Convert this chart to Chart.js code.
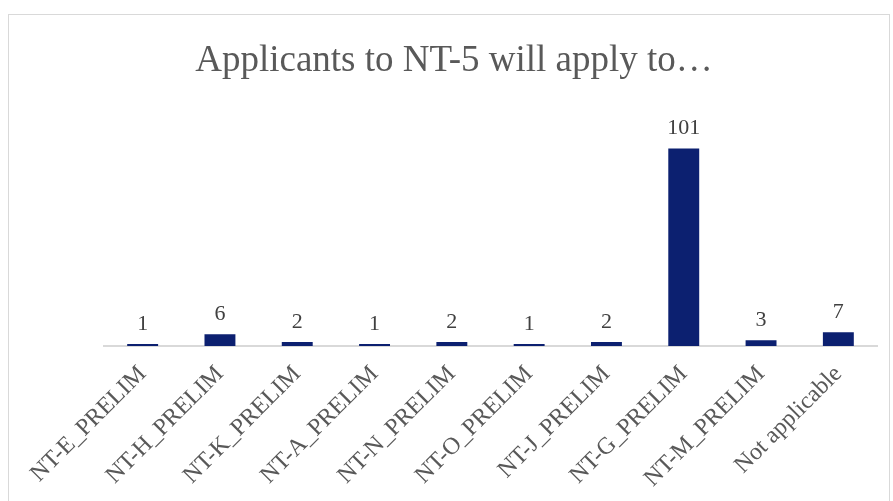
<!DOCTYPE html>
<html>
<head>
<meta charset="utf-8">
<script src="https://cdn.jsdelivr.net/npm/chart.js@4"></script>
<style>
  html, body { margin: 0; padding: 0; background: #fff; overflow: hidden; }
  #frame {
    position: absolute; left: 8px; top: 14px;
    width: 880px; height: 500px;
    border: 1px solid #d9d9d9; border-bottom: none;
  }
</style>
</head>
<body>
<div id="frame"><canvas id="applyChart"></canvas></div>
<script>
var categories = [
  "NT-E_PRELIM",
  "NT-H_PRELIM",
  "NT-K_PRELIM",
  "NT-A_PRELIM",
  "NT-N_PRELIM",
  "NT-O_PRELIM",
  "NT-J_PRELIM",
  "NT-G_PRELIM",
  "NT-M_PRELIM",
  "Not applicable"
];
var applicants = [1, 6, 2, 1, 2, 1, 2, 101, 3, 7];

var serif = "'Liberation Serif', 'Times New Roman', serif";

// writes each bar's count just above it
var valueLabels = {
  id: "valueLabels",
  afterDatasetsDraw: function (chart) {
    var ctx = chart.ctx;
    var meta = chart.getDatasetMeta(0);
    ctx.save();
    ctx.font = "22px " + serif;
    ctx.fillStyle = "#404040";
    ctx.textAlign = "center";
    ctx.textBaseline = "bottom";
    meta.data.forEach(function (bar, i) {
      ctx.fillText(String(applicants[i]), bar.x, bar.y - 9);
    });
    ctx.restore();
  }
};

var ctx = document.getElementById("applyChart");
ctx.width = 880;
ctx.height = 486;

new Chart(ctx, {
  type: "bar",
  data: {
    labels: categories,
    datasets: [
      {
        label: "Applicants",
        data: applicants,
        backgroundColor: "#0c2070",
        borderWidth: 0,
        categoryPercentage: 1,
        barPercentage: 0.4
      }
    ]
  },
  plugins: [valueLabels],
  options: {
    responsive: false,
    animation: false,
    layout: {
      padding: { left: 22, right: 12, top: 24, bottom: 0 }
    },
    plugins: {
      legend: { display: false },
      tooltip: { enabled: false },
      title: {
        display: true,
        text: "Applicants to NT-5 will apply to…",
        color: "#595959",
        font: { family: serif, size: 37, weight: "normal" },
        padding: { top: 0, bottom: 28 }
      }
    },
    scales: {
      y: {
        min: 0,
        max: 120,
        grid: { display: false, drawTicks: false },
        border: { display: false },
        ticks: { display: false },
        afterFit: function (scale) {
          scale.width = 73;
        }
      },
      x: {
        grid: { display: false, drawTicks: false },
        border: { display: true, color: "#d9d9d9", width: 2 },
        ticks: {
          color: "#595959",
          font: { family: serif, size: 24 },
          minRotation: 45,
          maxRotation: 45,
          padding: 14,
          autoSkip: false
        },
        afterFit: function (scale) {
          scale.height = 155;
        }
      }
    }
  }
});
</script>
</body>
</html>
